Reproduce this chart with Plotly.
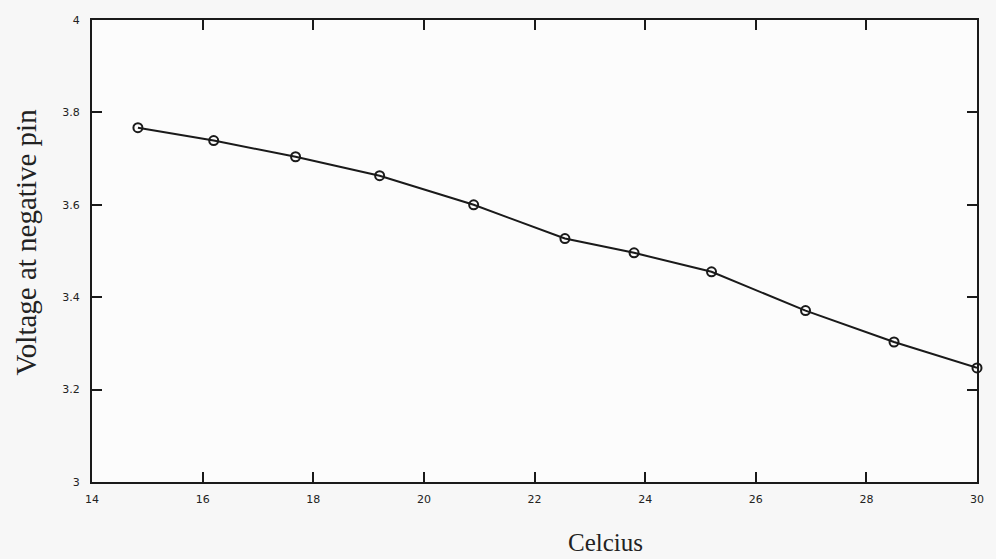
import plotly.graph_objects as go

celsius = [14.83, 16.2, 17.68, 19.2, 20.9, 22.55, 23.8, 25.2, 26.9, 28.5, 30.0]
voltage = [3.767, 3.739, 3.704, 3.663, 3.600, 3.527, 3.496, 3.455, 3.371, 3.303, 3.247]
x_ticks = [14, 16, 18, 20, 22, 24, 26, 28, 30]
y_ticks = [3, 3.2, 3.4, 3.6, 3.8, 4]
y_tick_text = ["3", "3.2", "3.4", "3.6", "3.8", "4"]

fig = go.Figure()
fig.add_trace(go.Scatter(
    x=celsius, y=voltage, mode="lines+markers",
    line=dict(color="#1a1a1a", width=2),
    marker=dict(symbol="circle-open", size=9, color="#1a1a1a", line=dict(width=2)),
    showlegend=False, cliponaxis=False,
))

axis_common = dict(
    showline=True, linecolor="#1a1a1a", linewidth=2, mirror="allticks",
    ticks="inside", ticklen=10, tickwidth=2, tickcolor="#1a1a1a",
    showgrid=False, zeroline=False,
    tickfont=dict(family="DejaVu Sans", size=11, color="#222"),
)

fig.update_xaxes(range=[14, 30], tickvals=x_ticks, ticktext=[str(t) for t in x_ticks],
                 ticklabelstandoff=6, **axis_common)
fig.update_yaxes(range=[3, 4], tickvals=y_ticks, ticktext=y_tick_text,
                 ticklabelstandoff=8, **axis_common)

fig.add_annotation(text="Voltage at negative pin", xref="paper", yref="paper",
                   x=-0.075, y=0.52, textangle=-90, showarrow=False,
                   xanchor="center", yanchor="middle",
                   font=dict(family="Liberation Serif", size=29, color="#222"))
fig.add_annotation(text="Celcius", xref="paper", yref="paper",
                   x=0.58, y=-0.13, showarrow=False,
                   xanchor="center", yanchor="middle",
                   font=dict(family="Liberation Serif", size=25, color="#222"))

fig.update_layout(
    width=996, height=559,
    margin=dict(l=92, r=12, t=20, b=77),
    paper_bgcolor="#f7f7f7", plot_bgcolor="#fcfcfc",
)

fig.write_html("out.html")
